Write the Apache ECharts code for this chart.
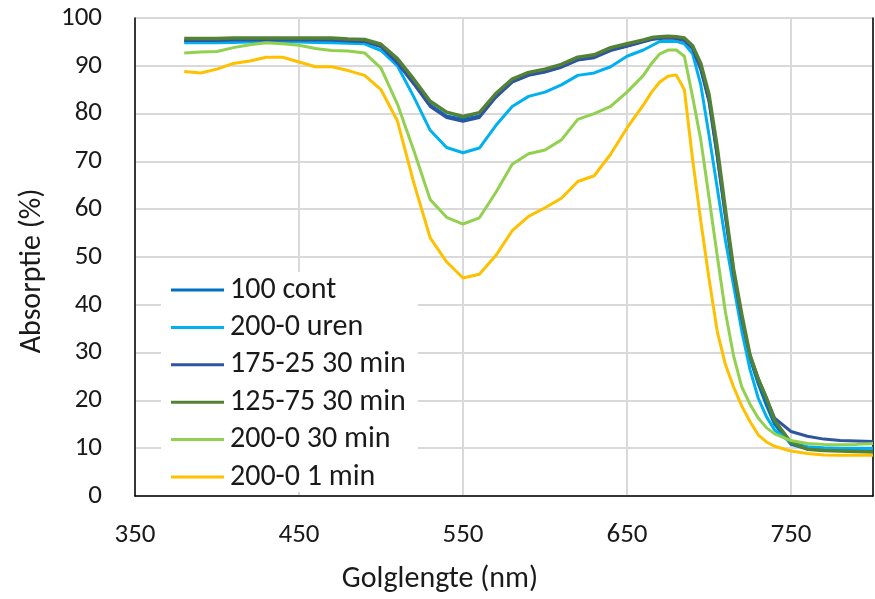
<!DOCTYPE html>
<html>
<head>
<meta charset="utf-8">
<title>Absorptie</title>
<script src="https://cdn.jsdelivr.net/npm/echarts@6/dist/echarts.min.js"></script>
<style>
    html, body { margin: 0; padding: 0; background: #fff; }
    #chart { width: 875px; height: 599px; }
</style>
</head>
<body>
<div id="chart"></div>
<script>
// golflengte (nm)
const wavelengths = [380, 390, 400, 410, 420, 430, 440, 450, 460, 470, 480, 490, 500, 510, 520, 530, 540, 550, 560, 570,
    580, 590, 600, 610, 620, 630, 640, 650, 660, 665, 670, 675, 680, 685, 690, 695, 700, 705, 710, 715,
    720, 725, 730, 735, 740, 750, 760, 770, 780, 790, 800];

const cont100 = [95.2, 95.2, 95.2, 95.3, 95.4, 95.4, 95.4, 95.4, 95.4, 95.3, 95.2, 95.1, 94.0, 90.8, 86.4, 81.8, 79.5, 78.8, 79.5, 83.6,
    86.7, 88.1, 88.8, 89.8, 91.3, 91.8, 93.3, 94.2, 95.1, 95.6, 95.8, 95.9, 95.8, 95.4, 93.8, 89.5, 83.0, 71.5, 58.8, 46.5,
    37.0, 28.8, 23.5, 19.0, 15.0, 10.8, 9.8, 9.6, 9.5, 9.5, 9.4];
const uren200 = [94.8, 94.8, 94.8, 94.9, 95.0, 95.0, 95.0, 95.0, 94.9, 94.8, 94.7, 94.6, 93.2, 90.0, 83.5, 76.5, 72.9, 71.8, 72.8, 77.5,
    81.5, 83.6, 84.5, 86.0, 88.0, 88.5, 89.8, 92.0, 93.3, 94.2, 95.1, 95.1, 95.1, 94.6, 92.5, 86.0, 75.5, 64.5, 53.5, 44.0,
    34.5, 26.5, 20.5, 16.6, 13.8, 11.2, 10.3, 10.1, 10.0, 10.0, 10.0];
const min175 = [95.3, 95.3, 95.3, 95.4, 95.4, 95.4, 95.4, 95.4, 95.4, 95.4, 95.2, 95.1, 94.0, 90.6, 86.2, 81.5, 79.2, 78.4, 79.2, 83.4,
    86.6, 88.0, 88.7, 89.7, 91.2, 91.7, 93.2, 94.1, 95.0, 95.5, 95.7, 95.8, 95.7, 95.3, 93.6, 89.2, 82.5, 71.0, 58.5, 46.5,
    37.0, 29.5, 24.6, 20.5, 16.3, 13.5, 12.5, 11.9, 11.6, 11.5, 11.4];
const min125 = [95.7, 95.7, 95.7, 95.8, 95.8, 95.8, 95.8, 95.8, 95.8, 95.8, 95.6, 95.5, 94.5, 91.5, 87.2, 82.6, 80.3, 79.4, 80.2, 84.2,
    87.2, 88.6, 89.3, 90.3, 91.8, 92.3, 93.8, 94.6, 95.4, 95.9, 96.1, 96.2, 96.1, 95.8, 94.2, 90.5, 84.0, 73.0, 60.0, 47.5,
    38.0, 29.5, 24.5, 20.5, 15.8, 11.2, 9.8, 9.5, 9.4, 9.3, 9.2];
const min30 = [92.7, 92.9, 93.0, 93.8, 94.4, 94.8, 94.6, 94.3, 93.6, 93.2, 93.1, 92.7, 89.5, 82.0, 72.3, 62.0, 58.3, 56.9, 58.2, 63.5,
    69.4, 71.6, 72.4, 74.5, 78.8, 80.0, 81.5, 84.5, 88.0, 90.5, 92.5, 93.3, 93.3, 92.0, 83.5, 74.5, 62.5, 50.3, 38.5, 29.3,
    22.8, 19.2, 16.3, 14.3, 13.0, 11.6, 11.0, 10.8, 10.7, 10.8, 11.0];
const min1 = [88.8, 88.5, 89.3, 90.5, 91.0, 91.8, 91.8, 90.8, 89.8, 89.8, 89.0, 88.0, 85.0, 78.5, 65.5, 54.0, 49.0, 45.6, 46.4, 50.3,
    55.5, 58.5, 60.3, 62.3, 65.8, 67.0, 71.5, 77.0, 81.8, 84.5, 86.6, 87.8, 88.1, 85.0, 70.4, 57.5, 45.5, 34.5, 27.5, 22.8,
    18.8, 15.6, 12.8, 11.3, 10.4, 9.4, 8.9, 8.6, 8.5, 8.5, 8.5];

const seriesNames = ['100 cont', '200-0 uren', '175-25 30 min', '125-75 30 min', '200-0 30 min', '200-0 1 min'];
const seriesValues = [cont100, uren200, min175, min125, min30, min1];
const seriesColors = ['#0070C0', '#00B0F0', '#2F55A0', '#548235', '#92D050', '#FFC000'];

const fontName = 'Carlito, Lato, "Liberation Sans Narrow", sans-serif';
const textColor = '#1a1a1a';

let mycharts = echarts.init(document.getElementById('chart'));

let series = seriesNames.map(function (name, i) {
    return {
        name: name,
        type: 'line',
        symbol: 'none',
        smooth: false,
        data: wavelengths.map(function (w, k) { return [w, seriesValues[i][k]]; }),
        lineStyle: {
            color: seriesColors[i],
            width: i === 3 ? 3.5 : 3
        },
        itemStyle: { color: seriesColors[i] }
    };
});

let option = {
    backgroundColor: '#fff',
    animation: false,
    grid: {
        left: 135,
        right: 2,
        top: 18,
        bottom: 101
    },
    legend: {
        orient: 'vertical',
        left: 161,
        top: 272,
        padding: [3, 12, 0, 10],
        backgroundColor: '#fff',
        icon: 'rect',
        itemWidth: 53,
        itemHeight: 3,
        itemGap: 7.4,
        textStyle: {
            fontFamily: fontName,
            fontSize: 30,
            color: textColor,
            padding: [0, 0, 0, 1]
        },
        data: seriesNames
    },
    xAxis: {
        type: 'value',
        min: 350,
        max: 800,
        interval: 100,
        name: 'Golglengte (nm)',
        nameLocation: 'middle',
        nameGap: 68,
        // titel staat links van het midden
        nameTextStyle: { fontFamily: fontName, fontSize: 30, color: textColor, padding: [0, 128, 0, 0] },
        axisLine: { show: true, onZero: false, lineStyle: { color: '#000', width: 1.5 } },
        axisTick: { show: false },
        axisLabel: {
            showMaxLabel: false,
            margin: 26,
            fontFamily: fontName,
            fontSize: 27,
            color: textColor
        },
        splitLine: { show: true, lineStyle: { color: '#d9d9d9', width: 2 } }
    },
    yAxis: [{
        type: 'value',
        min: 0,
        max: 100,
        interval: 10,
        name: 'Absorptie (%)',
        nameLocation: 'middle',
        nameGap: 88,
        nameTextStyle: { fontFamily: fontName, fontSize: 30, color: textColor, padding: [0, 28, 0, 0] },
        axisLine: { show: true, lineStyle: { color: '#000', width: 1.5 } },
        axisTick: { show: false },
        axisLabel: {
            margin: 33,
            fontFamily: fontName,
            fontSize: 27,
            color: textColor
        },
        splitLine: { show: true, lineStyle: { color: '#d9d9d9', width: 2 } }
    }, {
        type: 'value',
        position: 'right',
        min: 0,
        max: 100,
        interval: 10,
        axisLine: { show: true, lineStyle: { color: '#000', width: 1.5 } },
        axisTick: { show: false },
        axisLabel: { show: false },
        splitLine: { show: false }
    }],
    series: series
};

mycharts.setOption(option);
window.addEventListener('resize', function () {
    mycharts.resize();
});
</script>
</body>
</html>
